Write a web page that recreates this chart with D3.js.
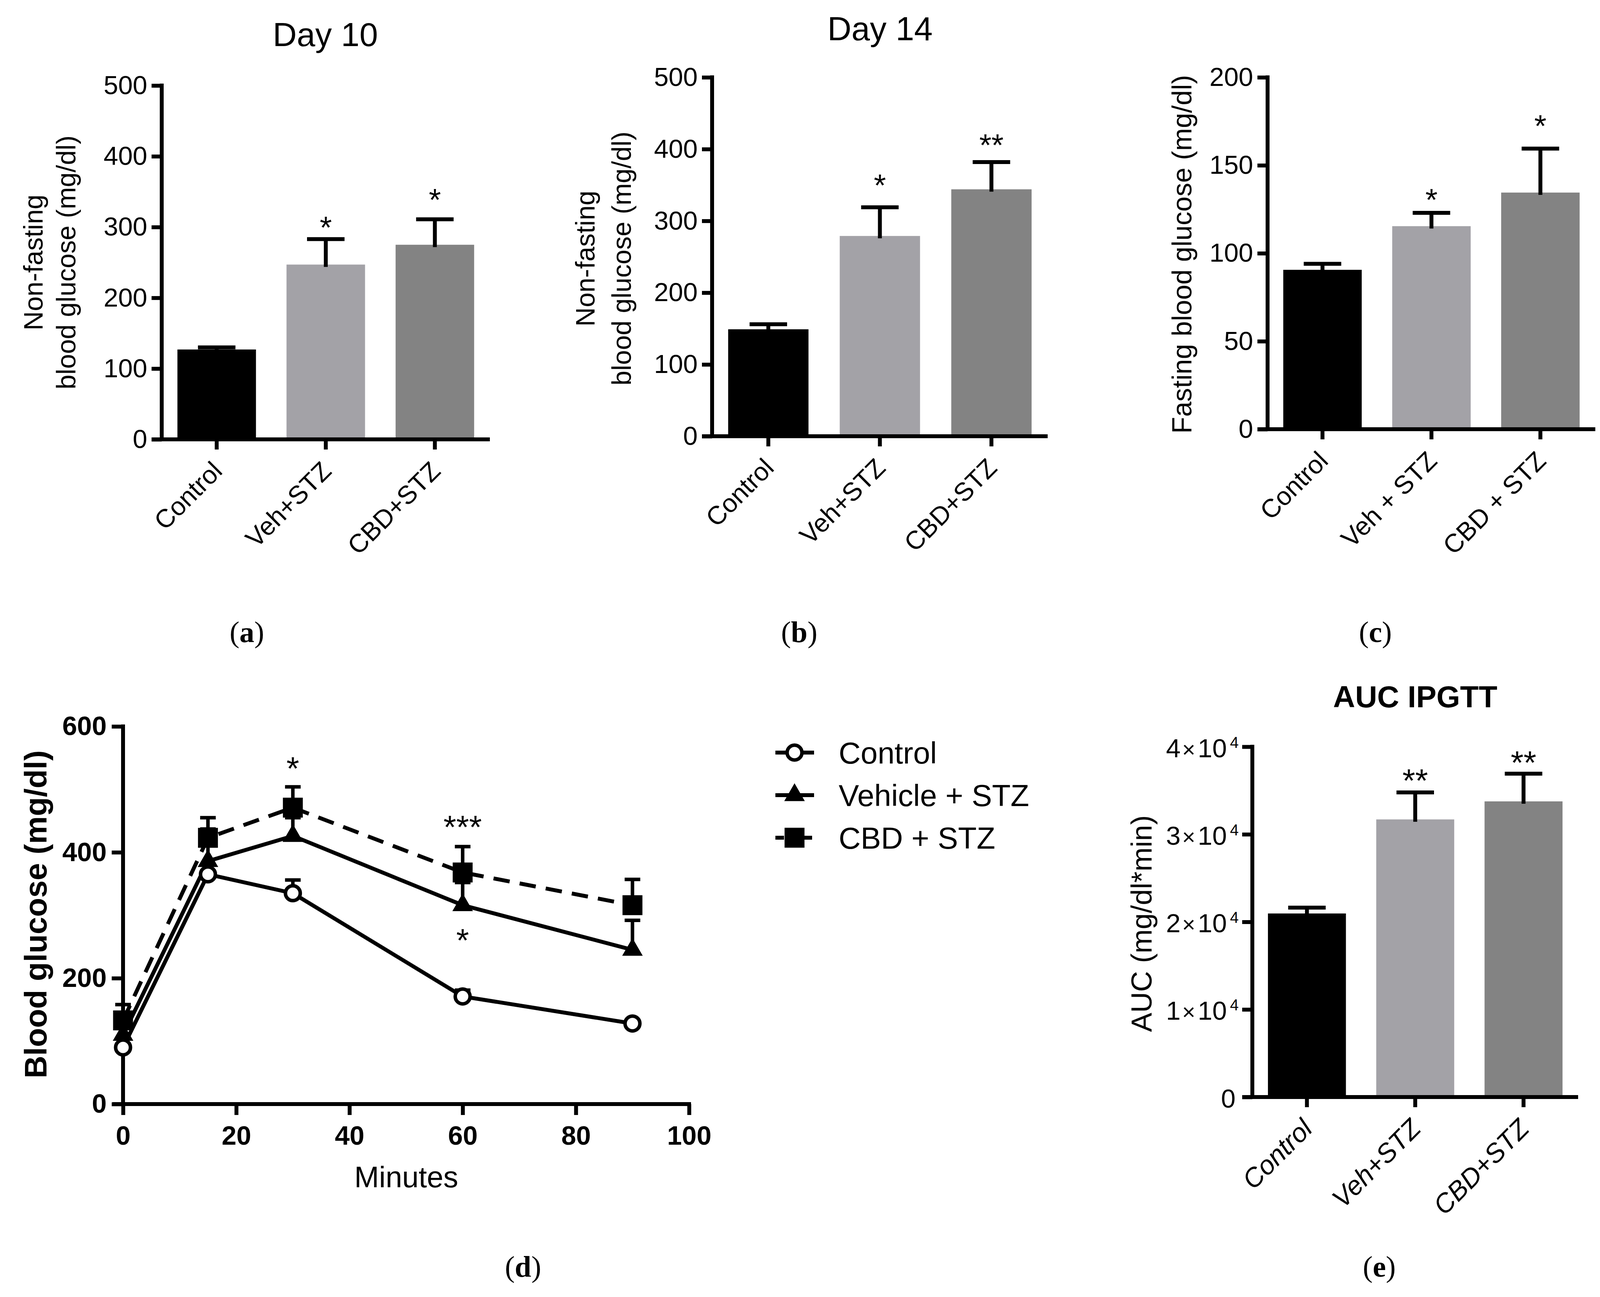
<!DOCTYPE html>
<html>
<head>
<meta charset="utf-8">
<script src="https://cdn.jsdelivr.net/npm/d3@7"></script>
<style>body{margin:0;background:#fff;}</style>
</head>
<body>
<div id="chart"></div>
<script>
const width = 4115;
const height = 3321;

const SANS = "'Liberation Sans', Arial, sans-serif";
const SERIF = "'Liberation Serif', 'Times New Roman', serif";

// groups and bar colours
const groups = ["Control", "Veh+STZ", "CBD+STZ"];
const groupsSpaced = ["Control", "Veh + STZ", "CBD + STZ"];
const barColors = ["#000000", "#a3a2a7", "#838383"];

// (a) Day 10, non-fasting glucose
const day10Mean = [127, 247, 275];
const day10Sem = [3, 36, 36];
const day10Stars = ["", "*", "*"];
const day10StarAt = [0, 310, 349];
const glucoseTicks = [0, 100, 200, 300, 400, 500];

// (b) Day 14, non-fasting glucose
const day14Mean = [149, 279, 344];
const day14Sem = [7, 40, 38];
const day14Stars = ["", "*", "**"];
const day14StarAt = [0, 360, 416];

// (c) fasting glucose
const fastingMean = [90.6, 115.4, 134.5];
const fastingSem = [3.4, 7.6, 25];
const fastingStars = ["", "*", "*"];
const fastingStarAt = [0, 134.5, 176.5];
const fastingTicks = [0, 50, 100, 150, 200];

// (e) AUC IPGTT
const aucMean = [20960, 31700, 33760];
const aucSem = [670, 3080, 3160];
const aucStars = ["", "**", "**"];
const aucStarAt = [0, 37010, 39060];
const aucTicks = [0, 10000, 20000, 30000, 40000];

// (d) IPGTT time course
const minutes = [0, 15, 30, 60, 90];
const ctrlMean = [90, 365, 335, 171, 128];
const ctrlSem = [5, 5, 21, 10, 3];
const vehMean = [110, 386, 426, 316, 245];
const vehSem = [15, 51, 29, 36, 47];
const cbdMean = [133, 423, 471, 368, 316];
const cbdSem = [25, 32, 33, 41, 41];
const minuteTicks = [0, 20, 40, 60, 80, 100];
const bgTicks = [0, 200, 400, 600];
const legendLabels = ["Control", "Vehicle + STZ", "CBD + STZ"];
const ipgttStars = ["*", "***", "*"];
const ipgttStarMin = [30, 60, 60];
const ipgttStarAt = [545, 452, 272];

const svg = d3.select("#chart")
    .append("svg")
    .attr("width", width)
    .attr("height", height)
    .style("background-color", "#ffffff");

function barPanel(p) {
    const g = svg.append("g");
    const x = d3.scaleBand().domain(p.cats)
        .range([p.x0, p.x1])
        .paddingInner(0.28).paddingOuter(0.144);
    const y = d3.scaleLinear().domain([0, p.max]).range([p.y0, p.yTop]);

    g.selectAll("rect.bar").data(p.means).join("rect")
        .attr("class", "bar")
        .attr("x", (d, i) => x(p.cats[i]))
        .attr("width", x.bandwidth())
        .attr("y", d => y(d))
        .attr("height", d => y(0) - y(d))
        .attr("fill", (d, i) => barColors[i]);

    // error bars (upper only)
    p.means.forEach((m, i) => {
        const cx = x(p.cats[i]) + x.bandwidth() / 2;
        const top = y(m + p.sems[i]);
        g.append("line").attr("x1", cx).attr("x2", cx)
            .attr("y1", y(m) + 6).attr("y2", top)
            .attr("stroke", "#000").attr("stroke-width", 10);
        g.append("line").attr("x1", cx - 48).attr("x2", cx + 48)
            .attr("y1", top).attr("y2", top)
            .attr("stroke", "#000").attr("stroke-width", 10);
        if (p.stars[i]) {
            g.append("text")
                .attr("x", cx)
                .attr("y", y(p.starAt[i]) + 0.58 * p.starSize)
                .attr("text-anchor", "middle")
                .attr("font-family", SANS)
                .attr("font-size", p.starSize)
                .text(p.stars[i]);
        }
    });

    // y axis
    const ya = g.append("g")
        .attr("transform", `translate(${p.x0},0)`)
        .call(d3.axisLeft(y).tickValues(p.ticks).tickSize(26).tickPadding(p.tickPad || 11)
            .tickFormat(p.sci ? () => "" : d3.format("d")));
    ya.select(".domain").remove();
    ya.selectAll(".tick line").attr("stroke", "#000").attr("stroke-width", 10);
    ya.selectAll(".tick text")
        .attr("font-family", SANS).attr("font-size", p.tickSize).attr("fill", "#000");
    if (p.sci) {
        ya.selectAll(".tick text").attr("dy", 26).each(function(v) {
            const t = d3.select(this);
            if (v === 0) { t.attr("dx", -8).text("0"); return; }
            t.append("tspan").text(v / 10000);
            t.append("tspan").attr("font-size", 58).attr("dx", 4).text("×");
            t.append("tspan").attr("dx", 6).text("10");
            t.append("tspan").attr("font-size", 40).attr("dx", 8).attr("dy", -24).text("4");
        });
    }
    g.append("line")
        .attr("x1", p.x0).attr("x2", p.x0)
        .attr("y1", y(0) + 5).attr("y2", y(p.max) - 5)
        .attr("stroke", "#000").attr("stroke-width", 10);

    // x axis
    const xa = g.append("g")
        .attr("transform", `translate(0,${p.y0})`)
        .call(d3.axisBottom(x).tickSize(26).tickSizeOuter(0));
    xa.select(".domain").remove();
    xa.selectAll(".tick text").remove();
    xa.selectAll(".tick line").attr("stroke", "#000").attr("stroke-width", 10);
    g.append("line")
        .attr("x1", p.x0 - 26).attr("x2", p.x1)
        .attr("y1", p.y0).attr("y2", p.y0)
        .attr("stroke", "#000").attr("stroke-width", 10);

    g.selectAll("text.cat").data(p.labels).join("text")
        .attr("class", "cat")
        .attr("transform", (d, i) =>
            `translate(${x(p.cats[i]) + x.bandwidth() / 2 + 18},${p.y0 + 85}) rotate(-45)`)
        .attr("text-anchor", "end")
        .attr("font-family", SANS)
        .attr("font-style", p.catStyle || "normal")
        .attr("font-size", p.catSize)
        .text(d => d);

    // y label lines
    p.ylabel.forEach(l => {
        g.append("text")
            .attr("transform", `translate(${l.x},${l.y}) rotate(-90)`)
            .attr("dy", "0.35em")
            .attr("text-anchor", "middle")
            .attr("font-family", SANS)
            .attr("font-size", p.labelSize)
            .text(l.text);
    });

    if (p.title) {
        g.append("text")
            .attr("x", p.title.x).attr("y", p.title.y)
            .attr("text-anchor", "middle")
            .attr("font-family", SANS)
            .attr("font-weight", p.title.weight || "normal")
            .attr("font-size", p.title.size)
            .text(p.title.text);
    }
}

function panelLetter(letter, x, y) {
    const t = svg.append("text")
        .attr("x", x).attr("y", y)
        .attr("text-anchor", "middle")
        .attr("font-family", SERIF)
        .attr("font-size", 76);
    t.append("tspan").text("(");
    t.append("tspan").attr("font-weight", "bold").text(letter);
    t.append("tspan").text(")");
}

// (a)
barPanel({
    cats: groups, labels: groups, means: day10Mean, sems: day10Sem,
    stars: day10Stars, starAt: day10StarAt,
    x0: 414, x1: 1254, y0: 1125, yTop: 219, max: 500, ticks: glucoseTicks,
    tickSize: 67, catSize: 66, starSize: 80, labelSize: 68,
    ylabel: [{text: "Non-fasting", x: 85, y: 672}, {text: "blood glucose (mg/dl)", x: 169, y: 672}],
    title: {text: "Day 10", x: 833, y: 118, size: 85}
});
// (b)
barPanel({
    cats: groups, labels: groups, means: day14Mean, sems: day14Sem,
    stars: day14Stars, starAt: day14StarAt,
    x0: 1823, x1: 2682, y0: 1117, yTop: 198, max: 500, ticks: glucoseTicks,
    tickSize: 67, catSize: 66, starSize: 80, labelSize: 68,
    ylabel: [{text: "Non-fasting", x: 1498, y: 662}, {text: "blood glucose (mg/dl)", x: 1591, y: 662}],
    title: {text: "Day 14", x: 2253, y: 103, size: 85}
});
// (c)
barPanel({
    cats: groups, labels: groupsSpaced, means: fastingMean, sems: fastingSem,
    stars: fastingStars, starAt: fastingStarAt,
    x0: 3245, x1: 4084, y0: 1099, yTop: 198, max: 200, ticks: fastingTicks,
    tickSize: 67, catSize: 66, starSize: 80, labelSize: 70,
    ylabel: [{text: "Fasting blood glucose (mg/dl)", x: 3025, y: 651}]
});
// (e)
barPanel({
    cats: groups, labels: groups, means: aucMean, sems: aucSem,
    stars: aucStars, starAt: aucStarAt,
    x0: 3206, x1: 4040, y0: 2809, yTop: 1912, max: 40000, ticks: aucTicks, sci: true, tickPad: 9,
    tickSize: 67, catSize: 68, catStyle: "italic", starSize: 84, labelSize: 74,
    ylabel: [{text: "AUC (mg/dl*min)", x: 2922, y: 2365}],
    title: {text: "AUC IPGTT", x: 3623, y: 1811, size: 78, weight: "bold"}
});

// (d) IPGTT curves
const series = [
    {mean: vehMean, sem: vehSem, symbol: "triangle", dash: null},
    {mean: cbdMean, sem: cbdSem, symbol: "square", dash: "42,26"},
    {mean: ctrlMean, sem: ctrlSem, symbol: "circle", dash: null}
];
const legendOrder = [2, 0, 1];

const xd = d3.scaleLinear().domain([0, 100]).range([315, 1764]);
const yd = d3.scaleLinear().domain([0, 600]).range([2827, 1860]);
const gd = svg.append("g");

const yda = gd.append("g").attr("transform", `translate(${xd(0)},0)`)
    .call(d3.axisLeft(yd).tickValues(bgTicks).tickSize(29).tickPadding(13).tickFormat(d3.format("d")));
const xda = gd.append("g").attr("transform", `translate(0,${yd(0)})`)
    .call(d3.axisBottom(xd).tickValues(minuteTicks).tickSize(28).tickPadding(28).tickFormat(d3.format("d")));
[yda, xda].forEach(a => {
    a.select(".domain").remove();
    a.selectAll(".tick line").attr("stroke", "#000").attr("stroke-width", 10);
    a.selectAll(".tick text").attr("font-family", SANS).attr("font-weight", "bold")
        .attr("font-size", 68).attr("fill", "#000");
});
gd.append("line").attr("x1", xd(0)).attr("x2", xd(0))
    .attr("y1", yd(0) + 5).attr("y2", yd(600) - 5)
    .attr("stroke", "#000").attr("stroke-width", 10);
gd.append("line").attr("x1", xd(0) - 27).attr("x2", xd(100) + 5)
    .attr("y1", yd(0)).attr("y2", yd(0))
    .attr("stroke", "#000").attr("stroke-width", 10);

const line = d3.line().x((d, i) => xd(minutes[i])).y(d => yd(d));
series.forEach(s => {
    gd.append("path").datum(s.mean)
        .attr("d", line)
        .attr("fill", "none").attr("stroke", "#000").attr("stroke-width", 10)
        .attr("stroke-dasharray", s.dash);
});

function marker(sel, type) {
    if (type === "circle") {
        return sel.append("circle").attr("r", 19)
            .attr("fill", "#fff").attr("stroke", "#000").attr("stroke-width", 9);
    }
    const sym = type === "square" ? d3.symbolSquare : d3.symbolTriangle;
    const size = type === "square" ? 2600 : 1200;
    return sel.append("path").attr("d", d3.symbol(sym, size)()).attr("fill", "#000");
}

series.forEach(s => {
    s.mean.forEach((m, i) => {
        const cx = xd(minutes[i]);
        const top = yd(m + s.sem[i]);
        gd.append("line").attr("x1", cx).attr("x2", cx).attr("y1", yd(m)).attr("y2", top)
            .attr("stroke", "#000").attr("stroke-width", 9);
        gd.append("line").attr("x1", cx - 20).attr("x2", cx + 20).attr("y1", top).attr("y2", top)
            .attr("stroke", "#000").attr("stroke-width", 9);
    });
});
series.forEach(s => {
    s.mean.forEach((m, i) => {
        const mg = gd.append("g").attr("transform", `translate(${xd(minutes[i])},${yd(m)})`);
        marker(mg, s.symbol);
    });
});

ipgttStars.forEach((s, i) => {
    gd.append("text")
        .attr("x", xd(ipgttStarMin[i]))
        .attr("y", yd(ipgttStarAt[i]) + 0.58 * 84)
        .attr("text-anchor", "middle")
        .attr("font-family", SANS).attr("font-size", 84)
        .text(s);
});

gd.append("text")
    .attr("transform", "translate(91,2341) rotate(-90)")
    .attr("dy", "0.35em")
    .attr("text-anchor", "middle")
    .attr("font-family", SANS).attr("font-weight", "bold").attr("font-size", 80)
    .text("Blood glucose (mg/dl)");
gd.append("text")
    .attr("x", 1040).attr("y", 3040)
    .attr("text-anchor", "middle")
    .attr("font-family", SANS).attr("font-size", 76)
    .text("Minutes");

// legend
const legendY = [1927, 2036, 2145];
legendOrder.forEach((si, k) => {
    const s = series[si];
    const lg = svg.append("g").attr("transform", `translate(2034,${legendY[k]})`);
    lg.append("line").attr("x1", -49).attr("x2", 50)
        .attr("stroke", "#000").attr("stroke-width", 10)
        .attr("stroke-dasharray", s.dash ? "22,14" : null);
    marker(lg, s.symbol);
    lg.append("text").attr("x", 113).attr("dy", "0.36em")
        .attr("font-family", SANS).attr("font-size", 78)
        .text(legendLabels[k]);
});

panelLetter("a", 632, 1644);
panelLetter("b", 2046, 1644);
panelLetter("c", 3521, 1644);
panelLetter("d", 1339, 3269);
panelLetter("e", 3531, 3269);
</script>
</body>
</html>
